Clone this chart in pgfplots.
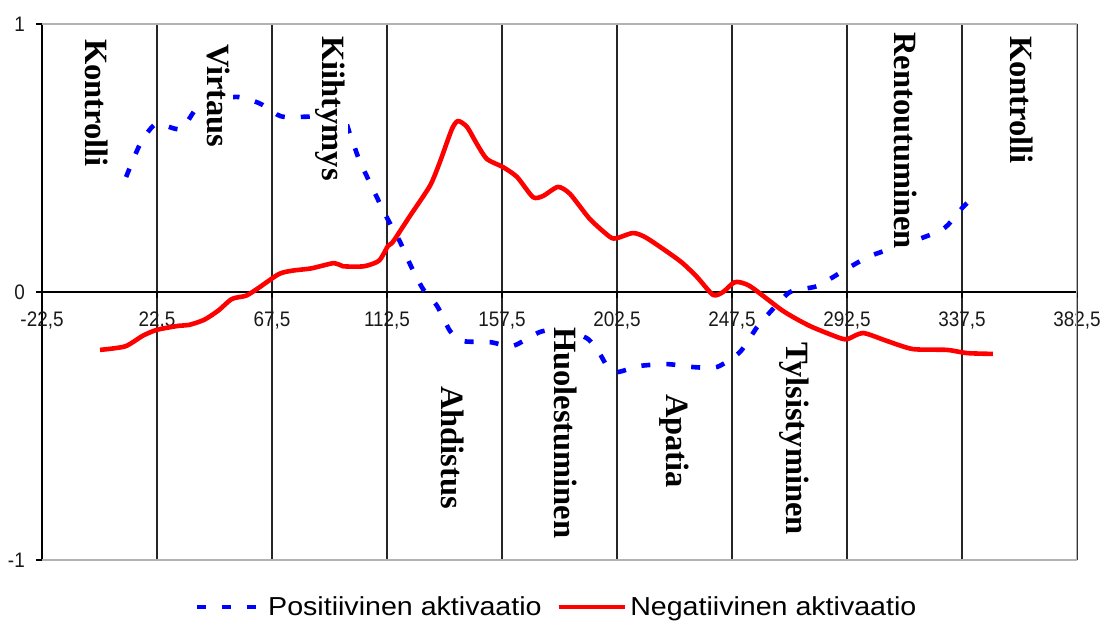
\documentclass[border=0pt]{standalone}
\usepackage{fontspec}
\usepackage{pgfplots}
\pgfplotsset{compat=1.18}
\setmainfont{Liberation Sans}
\newfontfamily\tickfont{Liberation Sans}[FakeStretch=0.9]
\newfontfamily\legendfont{Liberation Sans}[FakeStretch=1.1]
\newfontfamily\labelfont{Liberation Serif}
\definecolor{pblue}{RGB}{0,0,255}
\definecolor{nred}{RGB}{255,0,0}
\tikzset{lbl/.style={rotate=-90, anchor=base west, fill=white, inner xsep=3pt, inner ysep=3pt,
    font=\labelfont\fontsize{32.5}{37}\selectfont\bfseries, text=black}}
\begin{document}
\begin{tikzpicture}
\begin{axis}[
  name=ax,
  width=1035pt, height=536pt, scale only axis,
  xmin=-22.5, xmax=382.5, ymin=-1, ymax=1,
  axis x line=middle, axis y line=left,
  axis line style={-, black, line width=1.2pt},
  hide obscured x ticks=false, hide obscured y ticks=false,
  xtick={-22.5,22.5,67.5,112.5,157.5,202.5,247.5,292.5,337.5,382.5},
  xticklabels={{-22,5},{22,5},{67,5},{112,5},{157,5},{202,5},{247,5},{292,5},{337,5},{382,5}},
  ytick={-1,0,1}, yticklabels={-1,0,1},
  tick align=outside, major tick length=6pt,
  tick style={black, line width=1.1pt},
  xmajorgrids, grid style={black!85, line width=1.2pt},
  ticklabel style={font=\tickfont\fontsize{21}{24}\selectfont, text=black!90},
  xticklabel style={anchor=north, inner sep=0pt, yshift=-14pt},
  yticklabel style={anchor=east, inner sep=0pt, xshift=-11pt},
  legend style={at={(0.4976,-0.0877)}, anchor=center, draw=none, fill=none,
    legend columns=2, font=\legendfont\fontsize{26}{30}\selectfont,
    /tikz/every even column/.append style={column sep=12pt},
    inner sep=0pt, nodes={inner sep=3pt}},
  legend image code/.code={\draw[#1] (0pt,0pt) -- (66pt,0pt);},
]
\addplot[pblue, line width=4.6pt, dash pattern=on 9pt off 16pt, line join=round, smooth, tension=0.4] coordinates {
(10.4,0.429) (15.9,0.552) (22.1,0.627) (31.9,0.608) (39.3,0.698) (53.4,0.728)
(62.4,0.705) (67.5,0.675) (72.6,0.653) (94.1,0.653) (98.0,0.590) (101.5,0.496)
(107.0,0.384) (112.1,0.284) (117.6,0.187) (121.5,0.104) (126.6,0.011) (132.1,-0.052)
(137.2,-0.146) (142.2,-0.183) (152.8,-0.187) (161.8,-0.201) (172.4,-0.149) (181.8,-0.138)
(191.1,-0.175) (195.8,-0.231) (198.6,-0.276) (202.5,-0.299) (211.5,-0.276) (222.1,-0.269)
(232.2,-0.280) (241.6,-0.280) (250.6,-0.224) (257.3,-0.131) (262.4,-0.075) (270.2,0.0)
(280.8,0.022) (290.9,0.078) (301.5,0.134) (315.2,0.179) (330.1,0.235) (337.9,0.317) (342.6,0.358)
};
\addlegendentry{Positiivinen aktivaatio}
\addplot[nred, line width=4.6pt, line join=round, smooth, tension=0.4] coordinates {
(0.2,-0.216) (10.0,-0.203) (17.0,-0.163) (22.5,-0.141) (31.1,-0.126) (35.0,-0.123)
(40.9,-0.104) (46.4,-0.070) (51.8,-0.026) (57.3,-0.014) (61.6,0.011) (70.2,0.067)
(75.7,0.080) (82.8,0.088) (91.8,0.108) (95.3,0.096) (103.5,0.096) (109.4,0.117)
(112.9,0.172) (114.8,0.187) (121.5,0.284) (129.3,0.396) (133.2,0.485) (137.9,0.608)
(140.3,0.638) (143.8,0.616) (147.7,0.552) (151.6,0.496) (157.9,0.466) (163.4,0.429)
(169.6,0.354) (173.5,0.358) (179.4,0.392) (184.1,0.366) (191.9,0.272) (199.8,0.205)
(202.5,0.201) (208.8,0.220) (214.2,0.201) (227.1,0.116) (233.8,0.056) (240.1,-0.011)
(244.0,0.0) (248.7,0.037) (254.5,0.022) (267.5,-0.071) (278.0,-0.127) (289.8,-0.172)
(292.9,-0.175) (298.8,-0.153) (308.2,-0.183) (318.3,-0.213) (331.6,-0.216) (339.5,-0.228) (349.6,-0.231)
};
\addlegendentry{Negatiivinen aktivaatio}
\draw[gray!60, line width=1.5pt] (rel axis cs:0,1) -- (rel axis cs:1,1) -- (rel axis cs:1,0) -- (rel axis cs:0,0);
\node[lbl] at (axis cs:-5.67,0.955) {Kontrolli};
\node[lbl] at (axis cs:42.07,0.937) {Virtaus};
\node[lbl] at (axis cs:87.07,0.966) {Kiihtymys};
\node[lbl] at (axis cs:133.83,-0.340) {Ahdistus};
\node[lbl] at (axis cs:178.04,-0.119) {Huolestuminen};
\node[lbl] at (axis cs:221.87,-0.369) {Apatia};
\node[lbl] at (axis cs:268.83,-0.175) {Tylsistyminen};
\node[lbl] at (axis cs:310.89,0.981) {Rentoutuminen};
\node[lbl] at (axis cs:356.28,0.966) {Kontrolli};
\end{axis}
\pgfresetboundingbox
\path ([shift={(-42pt,-61pt)}]ax.south west) rectangle ([shift={(26pt,24pt)}]ax.north east);
\end{tikzpicture}
\end{document}
